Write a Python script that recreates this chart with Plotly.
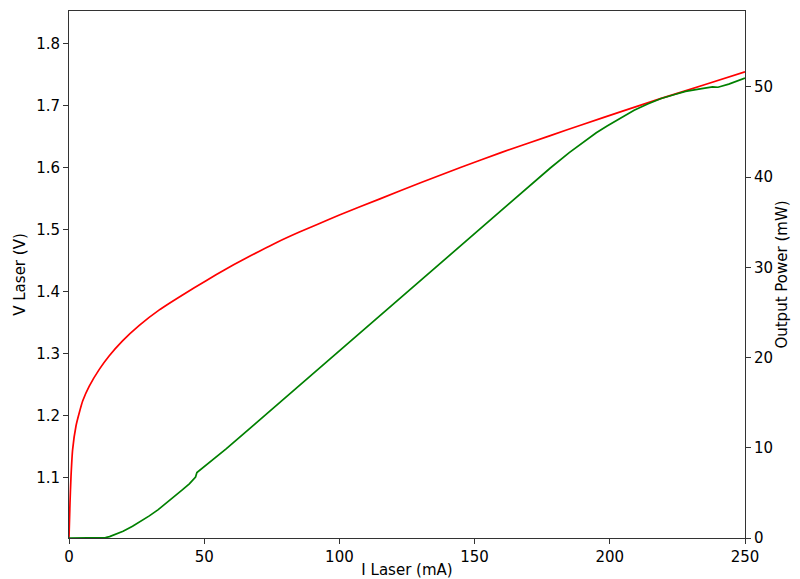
import plotly.graph_objects as go

# Voltage vs current (red, left axis)
i_v = [0, 0.37, 0.74, 1.35, 2.6, 3.8, 5.05, 7.5, 11.2, 14.9, 19.8, 26, 33.4,
       42, 50.7, 58.1, 64, 70.6, 77, 85, 92, 100, 115, 130, 145, 160, 178,
       190, 205, 219, 235, 250]
v_laser = [1.003, 1.060, 1.102, 1.146, 1.184, 1.205, 1.224, 1.248, 1.275,
           1.297, 1.321, 1.346, 1.371, 1.395, 1.418, 1.437, 1.451, 1.466,
           1.480, 1.496, 1.509, 1.524, 1.550, 1.576, 1.601, 1.625, 1.652,
           1.670, 1.692, 1.712, 1.734, 1.755]

# Output power vs current (green, right axis)
i_p = [0, 5, 10, 12.4, 13.5, 15, 17.4, 20, 23.5, 26.5, 29.7, 33, 36, 39, 42,
       44.5, 46.4, 46.8, 47.3, 50, 58, 70, 85, 97, 108, 117, 130, 142, 155,
       168, 178, 185, 190, 195, 199, 204, 209, 214, 219, 224, 228, 234, 238,
       240, 244, 250]
p_out = [0, 0, 0, 0, 0.05, 0.15, 0.4, 0.75, 1.3, 1.85, 2.45, 3.15, 3.85, 4.6,
         5.35, 6.0, 6.55, 6.75, 7.25, 7.9, 9.85, 12.95, 16.85, 19.95, 22.8,
         25.15, 28.5, 31.65, 35.05, 38.45, 41.0, 42.7, 43.85, 44.9, 45.65,
         46.55, 47.4, 48.1, 48.7, 49.15, 49.5, 49.8, 50.0, 49.95, 50.3, 50.96]

x_ticks = [0, 50, 100, 150, 200, 250]
v_ticks = [1.1, 1.2, 1.3, 1.4, 1.5, 1.6, 1.7, 1.8]
p_ticks = [0, 10, 20, 30, 40, 50]

fig = go.Figure()
fig.add_trace(go.Scatter(x=i_v, y=v_laser, mode="lines",
                         line=dict(color="#ff0000", width=1.7, shape="spline",
                                   smoothing=0.5),
                         yaxis="y", showlegend=False))
fig.add_trace(go.Scatter(x=i_p, y=p_out, mode="lines",
                         line=dict(color="#008000", width=1.7), yaxis="y2",
                         showlegend=False))

font = dict(family="DejaVu Sans", size=15, color="#000000")
axis_common = dict(showgrid=False, zeroline=False, showline=True,
                   linecolor="#333333", linewidth=1, ticks="outside",
                   ticklen=5, tickcolor="#333333", tickfont=font,
                   automargin=False)

# the page body adds an 8 px offset, so the figure is 8 px smaller
fig.update_layout(
    width=792, height=571,
    margin=dict(l=61, r=55, t=3, b=41),
    paper_bgcolor="white", plot_bgcolor="white",
    font=font,
    xaxis=dict(range=[0, 250], tickvals=x_ticks, mirror=True,
               title=dict(text="I Laser (mA)", font=font, standoff=2),
               **axis_common),
    yaxis=dict(range=[1.003, 1.853], tickvals=v_ticks,
               tickformat=".1f",
               title=dict(text="V Laser (V)", font=font, standoff=6),
               **axis_common),
    yaxis2=dict(range=[0, 58.4], tickvals=p_ticks, overlaying="y",
                side="right", anchor="x",
                title=dict(text="Output Power (mW)", font=font, standoff=4),
                **axis_common),
)

fig.write_html("out.html")
